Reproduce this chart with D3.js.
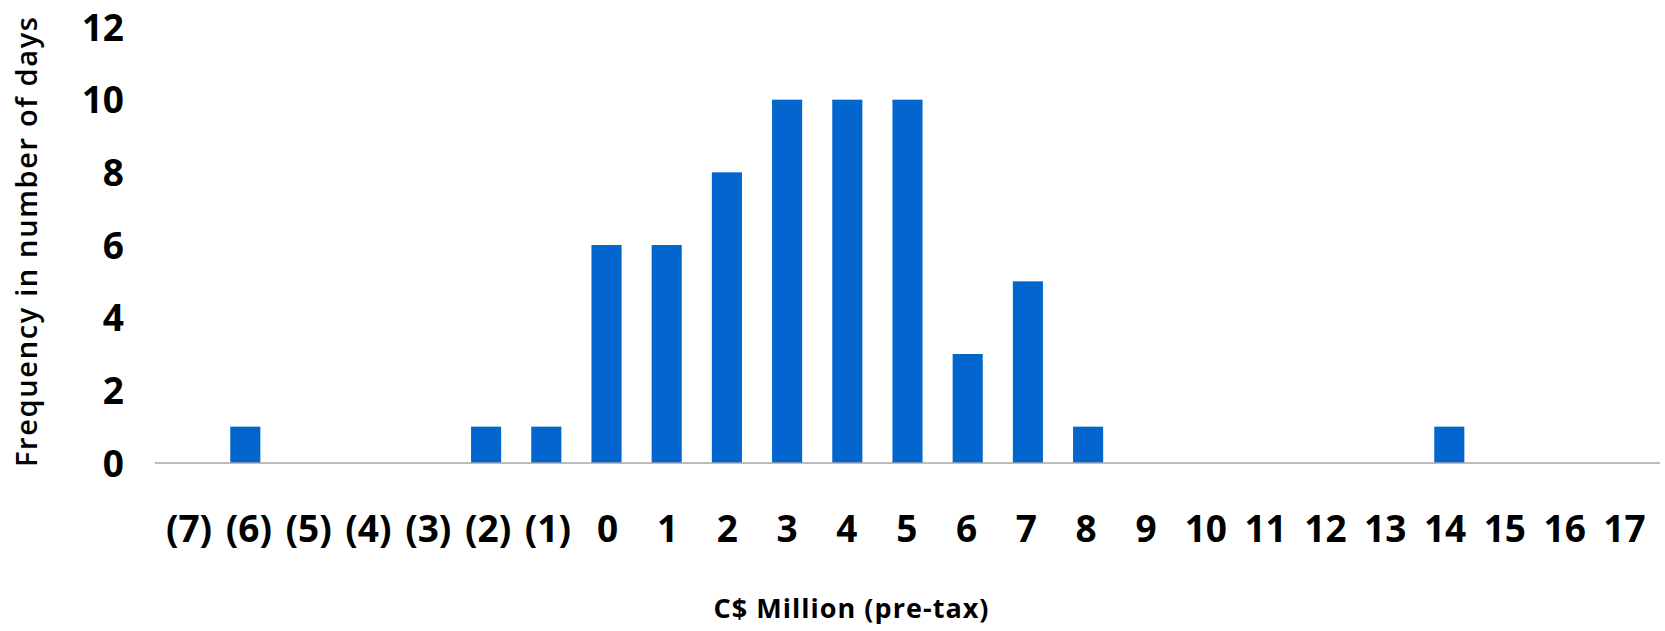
<!DOCTYPE html>
<html>
<head>
<meta charset="utf-8">
<script src="https://cdn.jsdelivr.net/npm/d3@7"></script>
<style>
  html, body { margin: 0; padding: 0; background: #ffffff; }
  svg { display: block; }
</style>
</head>
<body>
<svg id="chart" width="1665" height="631"></svg>
<script>
// ---- data ----
const categories = ["(7)", "(6)", "(5)", "(4)", "(3)", "(2)", "(1)", "0", "1", "2", "3", "4", "5", "6", "7", "8", "9", "10", "11", "12", "13", "14", "15", "16", "17"];
const frequency  = [0, 1, 0, 0, 0, 1, 1, 6, 6, 8, 10, 10, 10, 3, 5, 1, 0, 0, 0, 0, 0, 1, 0, 0, 0];
const yTicks = [0, 2, 4, 6, 8, 10, 12];
const xTitle = "C$ Million (pre-tax)";
const yTitle = "Frequency in number of days";

// ---- layout ----
const svg = d3.select("#chart");
const plotLeft = 155, plotRight = 1660, plotTop = 27, plotBottom = 463;

const x = d3.scaleBand().domain(categories).range([plotLeft, plotRight]).paddingInner(0.5).paddingOuter(0.25);
const xLabel = d3.scalePoint().domain(categories).range([188.5, 1624]);
const y = d3.scaleLinear().domain([0, 12]).range([plotBottom, plotTop]);

// bars
svg.append("g").selectAll("rect")
  .data(categories.map((c, i) => ({ c, v: frequency[i] })).filter(d => d.v > 0))
  .join("rect")
  .attr("x", d => x(d.c))
  .attr("width", x.bandwidth())
  .attr("y", d => y(d.v))
  .attr("height", d => y(0) - y(d.v))
  .attr("fill", "#0366ce");

// baseline
svg.append("line")
  .attr("x1", plotLeft).attr("x2", plotRight)
  .attr("y1", y(0)).attr("y2", y(0))
  .attr("stroke", "#a6a6a6").attr("stroke-width", 1.5);

// y axis
const yAxis = d3.axisLeft(y).tickValues(yTicks).tickSize(0).tickPadding(0);
const gy = svg.append("g").attr("transform", "translate(124,0)").call(yAxis);
gy.select(".domain").remove();
gy.selectAll("text")
  .attr("fill", "#000")
  .attr("dy", "0.36em")
  .style("font-family", "'Open Sans', sans-serif")
  .style("font-weight", "700")
  .style("font-size", "37px");

// x axis
const xAxis = d3.axisBottom(xLabel).tickSize(0).tickPadding(0);
const gx = svg.append("g").attr("transform", "translate(0,529)").call(xAxis);
gx.select(".domain").remove();
gx.selectAll("text")
  .attr("fill", "#000")
  .attr("dy", "0.36em")
  .attr("y", 0)
  .style("font-family", "'Open Sans', sans-serif")
  .style("font-weight", "700")
  .style("font-size", "37px");

// axis titles
svg.append("text")
  .attr("x", 851).attr("y", 618)
  .attr("text-anchor", "middle")
  .attr("textLength", 275)
  .attr("lengthAdjust", "spacing")
  .style("font-family", "'Open Sans', sans-serif")
  .style("font-weight", "700")
  .style("font-size", "27px")
  .attr("fill", "#000")
  .text(xTitle);

svg.append("text")
  .attr("transform", "translate(37,242) rotate(-90)")
  .attr("text-anchor", "middle")
  .attr("textLength", 450)
  .attr("lengthAdjust", "spacing")
  .style("font-family", "'Open Sans', sans-serif")
  .style("font-weight", "600")
  .style("font-size", "29px")
  .attr("fill", "#000")
  .text(yTitle);
</script>
</body>
</html>
